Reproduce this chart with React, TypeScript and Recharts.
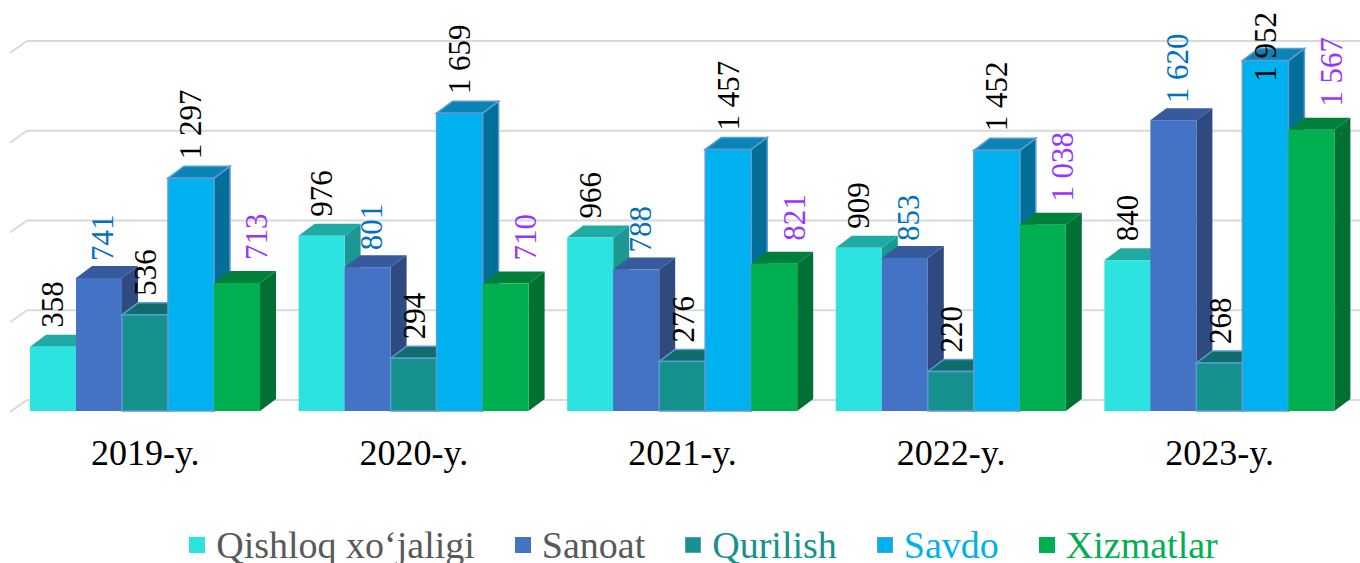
import React from "react";
import { BarChart, Bar, XAxis, YAxis, CartesianGrid, LabelList, Legend } from "recharts";

const years = ["2019-y.", "2020-y.", "2021-y.", "2022-y.", "2023-y."];
const qishloq = [358, 976, 966, 909, 840];
const sanoat = [741, 801, 788, 853, 1620];
const qurilish = [536, 294, 276, 220, 268];
const savdo = [1297, 1659, 1457, 1452, 1952];
const xizmatlar = [713, 710, 821, 1038, 1567];
const yTicks = [0, 500, 1000, 1500, 2000];

const data = years.map((year, i) => ({
  year,
  qishloq: qishloq[i],
  sanoat: sanoat[i],
  qurilish: qurilish[i],
  savdo: savdo[i],
  xizmatlar: xizmatlar[i],
}));

// colours + label tweaks per series
const series = [
  { key: "qishloq", name: "Qishloq xo\u2018jaligi", front: "#2ce3df", top: "#20aaa4", side: "#1b9893", stroke: "", label: "#000000", legend: "#595959", dx: 0, gap: 19 },
  { key: "sanoat", name: "Sanoat", front: "#4472c4", top: "#365a9b", side: "#2e4a80", stroke: "", label: "#0070c0", legend: "#595959", dx: 4, gap: 17 },
  { key: "qurilish", name: "Qurilish", front: "#16918e", top: "#106c6a", side: "#0e6361", stroke: "#5b9bd5", label: "#000000", legend: "#16918e", dx: 1, gap: 19 },
  { key: "savdo", name: "Savdo", front: "#00b1ef", top: "#0a84b4", side: "#036e98", stroke: "#5b9bd5", label: "#000000", legend: "#00b0f0", dx: 0, gap: 19 },
  { key: "xizmatlar", name: "Xizmatlar", front: "#00af50", top: "#00803a", side: "#007033", stroke: "", label: "#9933ff", legend: "#00b050", dx: 20, gap: 23 },
];

const DX = 16;
const DY = 12;
const FONT = "Liberation Serif, Tinos, Times New Roman, DejaVu Serif, serif";
const LABEL_FS = 31;

const fmt = (v: number) => String(v).replace(/\B(?=(\d{3})+(?!\d))/g, "\u00a0");

function make3DBar(s: (typeof series)[number]) {
  return (p: any) => {
    const { x, y, width: w, height: h } = p;
    if (w == null || h == null || isNaN(x) || isNaN(y)) return <g />;
    const sw = s.stroke ? 1.5 : 0;
    const st = s.stroke || "none";
    return (
      <g>
        <polygon
          points={`${x + w},${y} ${x + w + DX},${y - DY} ${x + w + DX},${y + h - DY} ${x + w},${y + h}`}
          fill={s.side}
          stroke={st}
          strokeWidth={sw}
        />
        <polygon
          points={`${x},${y} ${x + DX},${y - DY} ${x + w + DX},${y - DY} ${x + w},${y}`}
          fill={s.top}
          stroke={st}
          strokeWidth={sw}
        />
        <rect x={x} y={y} width={w} height={h} fill={s.front} stroke={st} strokeWidth={sw} />
      </g>
    );
  };
}

function makeLabel(s: (typeof series)[number]) {
  return (p: any) => {
    const { x, y, width, value } = p;
    const text = fmt(Number(value));
    const digits = text.replace(/\D/g, "").length;
    const spaces = text.length - digits;
    const len = (digits * 0.5 + spaces * 0.25) * LABEL_FS;
    // keep the label inside the chart, like the original does for the tallest bar
    const bottom = Math.max(y - s.gap, 12 + len);
    const cx = x + width / 2 + s.dx;
    return (
      <text
        x={cx}
        y={bottom}
        transform={`rotate(-90 ${cx} ${bottom})`}
        fill={s.label}
        fontSize={LABEL_FS}
        fontFamily={FONT}
        dominantBaseline="central"
        textAnchor="start"
      >
        {text}
      </text>
    );
  };
}

const gridLine = (p: any) => {
  const { x1, y1, key } = p;
  return (
    <path
      key={key}
      d={`M${x1 - 1},${y1 + 1} L${x1 + DX},${y1 - DY + 1} L1360,${y1 - DY + 1}`}
      fill="none"
      stroke="#d9d9d9"
      strokeWidth={2}
    />
  );
};

const YearTick = (p: any) => (
  <text x={p.x} y={465} textAnchor="middle" fontSize={36} fontFamily={FONT} fill="#000">
    {p.payload.value}
  </text>
);

const renderLegend = () => (
  <div
    style={{
      display: "flex",
      justifyContent: "center",
      alignItems: "center",
      gap: 40,
      paddingLeft: 47,
      fontFamily: FONT,
      fontSize: 38,
      lineHeight: "42px",
      whiteSpace: "nowrap",
    }}
  >
    {series.map((s) => (
      <div key={s.key} style={{ display: "flex", alignItems: "center" }}>
        <span
          style={{
            display: "inline-block",
            width: 16,
            height: 16,
            background: s.front,
            border: s.stroke ? `1.5px solid ${s.stroke}` : "none",
            boxSizing: "border-box",
            marginRight: 11,
          }}
        />
        <span style={{ color: s.legend }}>{s.name}</span>
      </div>
    ))}
  </div>
);

export default function App() {
  return (
    <div style={{ position: "absolute", left: 0, top: 0, width: 1360, height: 563, overflow: "hidden", background: "#fff" }}>
      <BarChart
        width={1360}
        height={563}
        data={data}
        margin={{ top: 52, right: 6, bottom: 112, left: 11 }}
        barCategoryGap={19}
        barGap={0}
      >
        <CartesianGrid vertical={false} horizontal={gridLine} />
        <XAxis dataKey="year" axisLine={false} tickLine={false} height={40} tick={<YearTick />} interval={0} />
        <YAxis hide domain={[0, 2000]} ticks={yTicks} />
        <Legend
          layout="horizontal"
          verticalAlign="middle"
          align="center"
          content={renderLegend}
          wrapperStyle={{ left: 0, top: 524, width: 1360 }}
        />
        {series.map((s) => (
          <Bar key={s.key} dataKey={s.key} name={s.name} fill={s.front} shape={make3DBar(s)} isAnimationActive={false}>
            <LabelList dataKey={s.key} content={makeLabel(s)} />
          </Bar>
        ))}
      </BarChart>
    </div>
  );
}
